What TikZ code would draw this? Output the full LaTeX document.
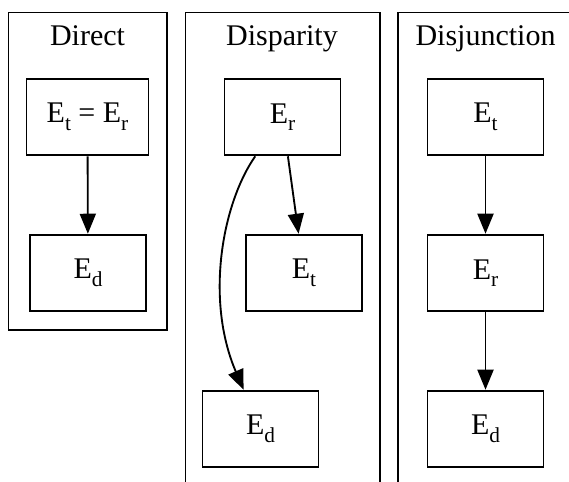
\documentclass[tikz,border=0pt]{standalone}
\usepackage{fontspec}
\setmainfont{Liberation Serif}
\usetikzlibrary{arrows.meta}
\newcommand{\lowsub}[1]{\raisebox{-0.25em}{\fontsize{16}{16}\selectfont #1}}

\begin{document}
\begin{tikzpicture}[x=0.75pt, y=-0.75pt, line width=1.4pt, box/.style={draw, rectangle, minimum width=87pt, minimum height=57.5pt, inner sep=0pt, font=\fontsize{22.5}{26}\selectfont}, cluster/.style={draw, rectangle, anchor=north west, inner sep=0pt}, title/.style={anchor=base, inner sep=0pt, font=\fontsize{22.5}{26}\selectfont}, flow/.style={-{Triangle[length=15pt, width=12pt]}}]
		\useasboundingbox (0, 0) rectangle (569, 482);
		\clip (0, 0) rectangle (569, 482);
		\node[cluster, minimum width=119pt, minimum height=238pt] (direct) at (7.5, 11.5) {};
		\node[title] (direct_title) at (87.5, 45) {Direct};
		\node[box, minimum width=91.5pt] (direct_tr) at (87.5, 117) {E\lowsub{t} = E\lowsub{r}};
		\node[box] (direct_d) at (88, 273) {E\lowsub{d}};
		\node[cluster, minimum width=145.6pt, minimum height=380pt] (disparity) at (184.5, 11.5) {};
		\node[title] (disparity_title) at (282, 45) {Disparity};
		\node[box] (disparity_r) at (282.5, 117) {E\lowsub{r}};
		\node[box] (disparity_t) at (304, 273) {E\lowsub{t}};
		\node[box] (disparity_d) at (260.5, 429) {E\lowsub{d}};
		\node[cluster, minimum width=160pt, minimum height=380pt] (disjunction) at (397, 11.5) {};
		\node[title] (disjunction_title) at (485.5, 45) {Disjunction};
		\node[box] (disjunction_t) at (485.5, 117) {E\lowsub{t}};
		\node[box] (disjunction_r) at (485.5, 273) {E\lowsub{r}};
		\node[box] (disjunction_d) at (485.5, 429) {E\lowsub{d}};
		\draw[flow] (direct_tr) -- (direct_d);
		\draw[flow] (disparity_r) -- (disparity_t);
		\draw[flow] (disparity_r) .. controls (222, 204) and (205, 300) .. (disparity_d);
		\draw[flow] (disjunction_t) -- (disjunction_r);
		\draw[flow] (disjunction_r) -- (disjunction_d);
	\end{tikzpicture}
\end{document}
